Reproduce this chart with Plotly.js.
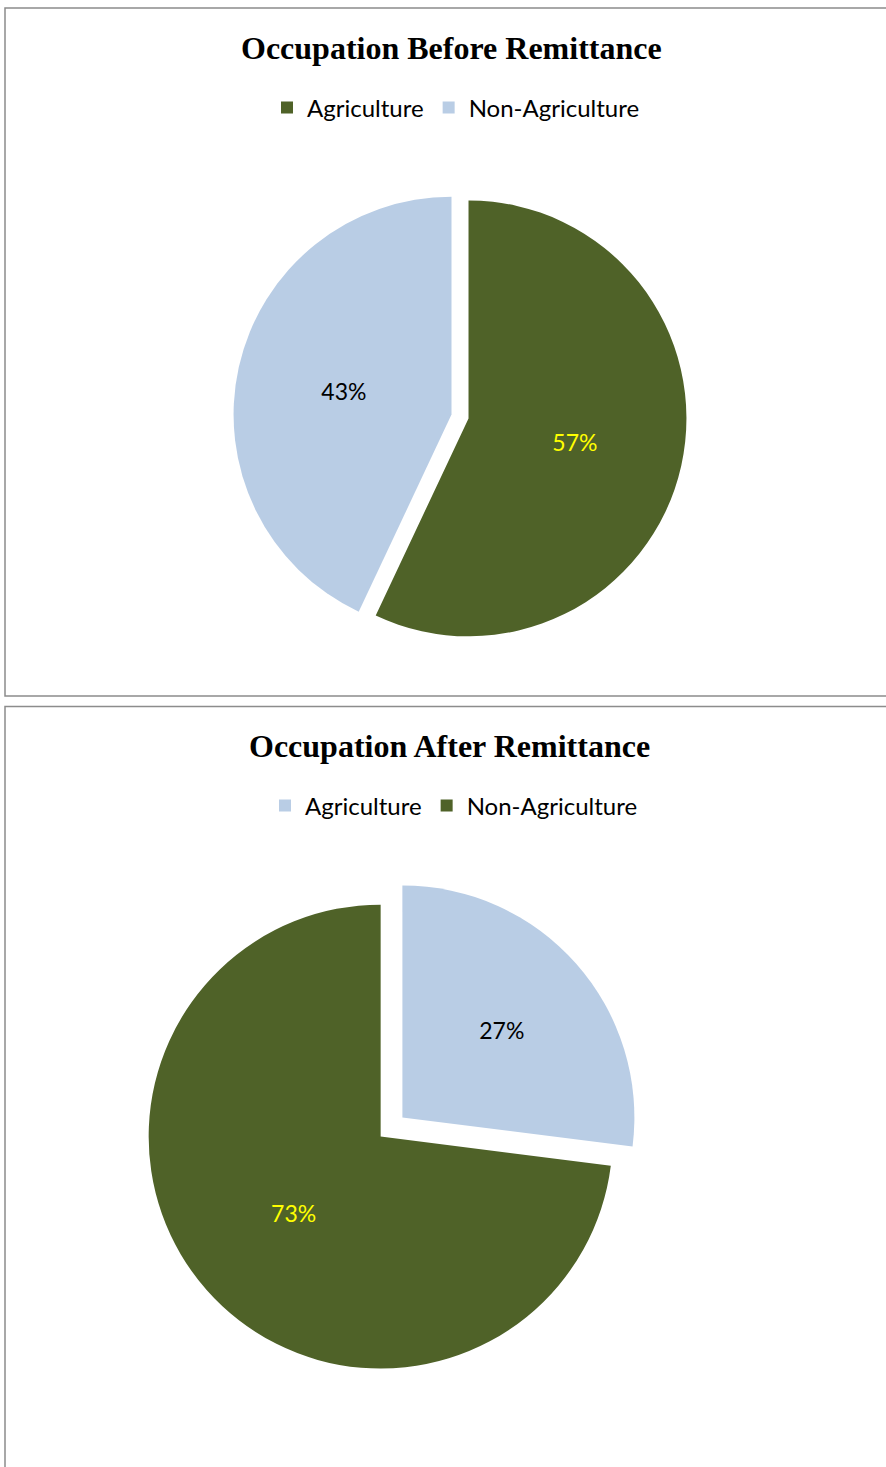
<!DOCTYPE html>
<html>
<head>
<meta charset="utf-8">
<script src="https://cdn.plot.ly/plotly-3.0.1.min.js"></script>
<style>html,body{margin:0;padding:0;background:#fff;}#chart{width:886px;height:1467px;}</style>
</head>
<body>
<div id="chart"></div>
<script>
// ---- data ----
const labels = ["Agriculture", "Non-Agriculture"];
const beforeValues = [57, 43];
const afterValues = [27, 73];
const beforeColors = ["#4F6228", "#B9CDE5"];
const afterColors = ["#B9CDE5", "#4F6228"];
const beforeTextColors = ["#FFFF00", "#000000"];
const afterTextColors = ["#000000", "#FFFF00"];
const titles = ["Occupation Before Remittance", "Occupation After Remittance"];

const W = 886, H = 1467;
const px = x => x / W;
const py = y => (H - y) / H;

const labelFont = "Lato, 'Open Sans', sans-serif";
const titleFont = "'Liberation Serif', 'Times New Roman', serif";

const traces = [
  {
    type: "pie", labels: labels, values: beforeValues, sort: false,
    direction: "clockwise", rotation: 0,
    marker: {colors: beforeColors, line: {width: 0}},
    pull: [0.04, 0.04],
    textinfo: "percent", textposition: "inside", insidetextorientation: "horizontal",
    insidetextfont: {family: labelFont, size: 23, color: beforeTextColors},
    domain: {x: [0.2633, 0.7751], y: [0.5616, 0.8706]},
    hoverinfo: "label+percent", legend: "legend", legendgroup: "before"
  },
  {
    type: "pie", labels: labels, values: afterValues, sort: false,
    direction: "clockwise", rotation: 0,
    marker: {colors: afterColors, line: {width: 0}},
    pull: [0.0625, 0.0625],
    textinfo: "percent", textposition: "inside", insidetextorientation: "horizontal",
    insidetextfont: {family: labelFont, size: 23, color: afterTextColors},
    domain: {x: [0.1637, 0.7201], y: [0.0637, 0.3998]},
    hoverinfo: "label+percent", legend: "legend2", legendgroup: "after"
  }
];

const legendBase = {
  orientation: "h", xanchor: "center", yanchor: "middle", traceorder: "normal",
  font: {family: labelFont, size: 24, color: "#000"},
  bgcolor: "rgba(0,0,0,0)", itemclick: false, itemdoubleclick: false
};

const layout = {
  width: W, height: H,
  margin: {l: 0, r: 0, t: 0, b: 0},
  paper_bgcolor: "#fff",
  showlegend: true,
  legend: Object.assign({}, legendBase, {x: px(456), y: py(108)}),
  legend2: Object.assign({}, legendBase, {x: px(454), y: py(806)}),
  annotations: [
    {text: "<b>" + titles[0] + "</b>", xref: "paper", yref: "paper", x: px(451), y: py(48),
     xanchor: "center", yanchor: "middle", showarrow: false,
     font: {family: titleFont, size: 32, color: "#000"}},
    {text: "<b>" + titles[1] + "</b>", xref: "paper", yref: "paper", x: px(449), y: py(746),
     xanchor: "center", yanchor: "middle", showarrow: false,
     font: {family: titleFont, size: 32, color: "#000"}}
  ],
  shapes: [
    {type: "rect", xref: "paper", yref: "paper", x0: px(5), x1: px(895), y0: py(696), y1: py(8),
     line: {color: "#8C8C8C", width: 1.5}, fillcolor: "rgba(0,0,0,0)"},
    {type: "rect", xref: "paper", yref: "paper", x0: px(5), x1: px(895), y0: py(1480), y1: py(706.5),
     line: {color: "#8C8C8C", width: 1.5}, fillcolor: "rgba(0,0,0,0)"}
  ]
};

Plotly.newPlot("chart", traces, layout, {displayModeBar: false, staticPlot: true});
</script>
</body>
</html>
